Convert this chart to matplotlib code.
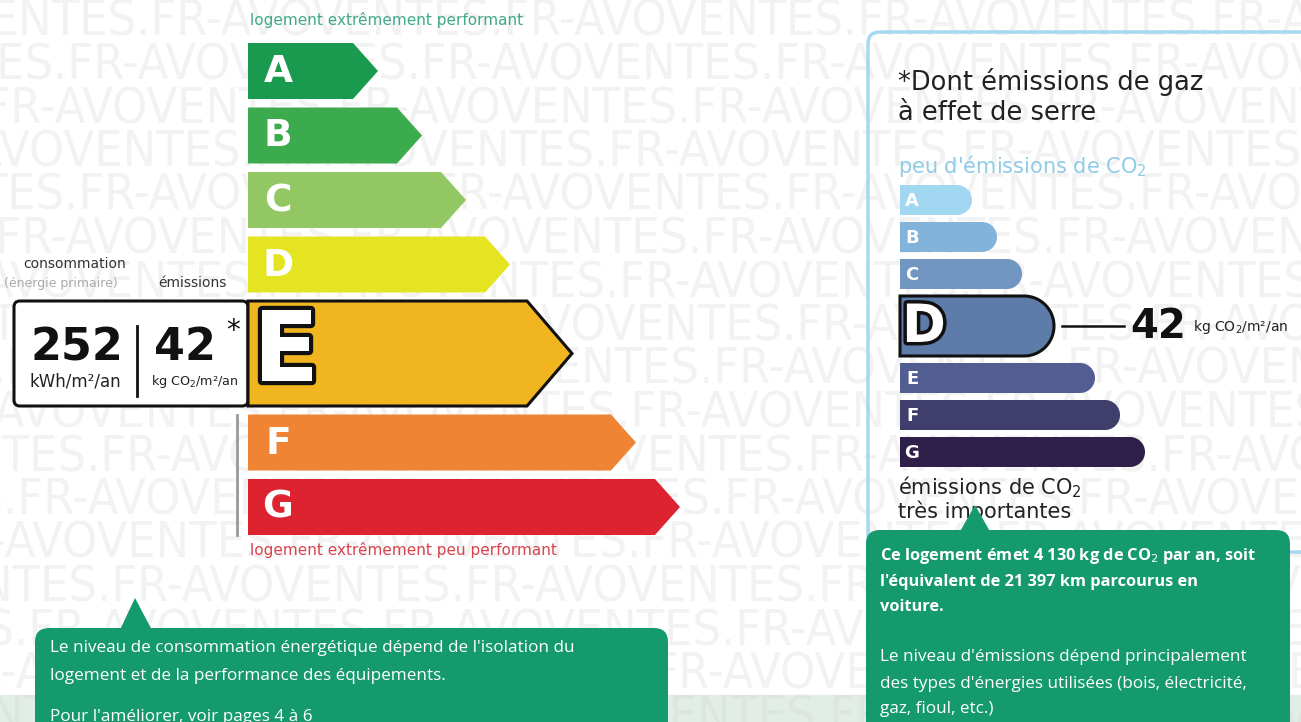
import matplotlib
matplotlib.use("Agg")
import matplotlib.pyplot as plt
from matplotlib.patches import Polygon, FancyBboxPatch, Rectangle
import matplotlib.patheffects as pe
import numpy as np

# données du diagnostic
classes = ["A", "B", "C", "D", "E", "F", "G"]
energy_len = [130, 174, 218, 262, 324, 388, 432]
energy_colors = ["#1a9a4f", "#3cab4e", "#93c763", "#e4e421", "#f1b520", "#ee8434", "#dd2330"]
co2_len = [72, 97, 122, 154, 195, 220, 245]
co2_colors = ["#a2d7f1", "#82b4db", "#7096c1", "#5e7ca9", "#525e91", "#403f6c", "#2d1f47"]
energy_class = "E"
co2_class = "D"
conso_value = 252
emis_value = 42
co2_kg_year = "4 130"
km_equiv = "21 397"

GREEN = "#149a6d"

fig = plt.figure(figsize=(13.01, 7.22), dpi=100)
ax = fig.add_axes([0, 0, 1, 1])
ax.set_xlim(0, 1301)
ax.set_ylim(722, 0)
ax.axis("off")

# bande claire en bas + filigrane
ax.add_patch(Rectangle((0, 695), 1301, 30, color="#e2eee5", zorder=0))
wm = "VENTES.FR-AVO" * 14
for i in range(17):
    ax.text(-((i * 83) % 260) - 40, 22 + i * 43.5, wm, fontsize=36, color="#cccccc", alpha=0.25,
            family="DejaVu Sans", fontstretch="condensed", va="center", ha="left", zorder=0.5)

# ---- étiquette énergie ----
x0 = 248
y = 43
for c, L, col in zip(classes, energy_len, energy_colors):
    sel = (c == energy_class)
    h = 105 if sel else 56
    tip = 45 if sel else 25
    pts = [(x0, y), (x0 + L - tip, y), (x0 + L, y + h / 2), (x0 + L - tip, y + h), (x0, y + h)]
    if sel:
        # cadre des valeurs
        ax.add_patch(FancyBboxPatch((14, y), x0 - 14, h, boxstyle="round,pad=0,rounding_size=6",
                                    fc="white", ec="#111111", lw=2.2, zorder=3))
        ax.add_patch(Polygon(pts, closed=True, fc=col, ec="#111111", lw=2.2, zorder=4))
        ax.text(x0 + 38, y + h / 2 + 1, c, fontsize=70, fontweight="bold", color="white",
                ha="center", va="center", zorder=5,
                path_effects=[pe.withStroke(linewidth=6, foreground="#111111")])
        ax.plot([137, 137], [y + 25, y + h - 10], color="#111111", lw=2, zorder=5)
        ax.text(77, y + 47, str(conso_value), fontsize=32, fontweight="bold", color="#111111",
                ha="center", va="center", zorder=5)
        ax.text(185, y + 47, str(emis_value), fontsize=32, fontweight="bold", color="#111111",
                ha="center", va="center", zorder=5)
        ax.text(233, y + 30, "*", fontsize=20, color="#111111", ha="center", va="center", zorder=5)
        ax.text(75, y + 81, "kWh/m²/an", fontsize=12, color="#222222", ha="center", va="center", zorder=5)
        ax.text(195, y + 81, "kg CO$_2$/m²/an", fontsize=9.2, color="#222222", ha="center", va="center", zorder=5)
    else:
        ax.add_patch(Polygon(pts, closed=True, fc=col, ec="none", zorder=2))
        ax.text(x0 + 30, y + h / 2 + 1, c, fontsize=27, fontweight="bold", color="white",
                ha="center", va="center", zorder=3)
    y += h + 8.5

ax.plot([237, 237], [415, 535], color="#999999", lw=2, zorder=2)
ax.text(250, 20, "logement extrêmement performant", fontsize=11, color="#3fa98a", va="center")
ax.text(250, 550, "logement extrêmement peu performant", fontsize=11, color="#d8434c", va="center")
ax.text(75, 264, "consommation", fontsize=10, color="#333333", ha="center", va="center")
ax.text(61, 283, "(énergie primaire)", fontsize=9, color="#aaaaaa", ha="center", va="center")
ax.text(192, 283, "émissions", fontsize=10, color="#333333", ha="center", va="center")

# ---- étiquette climat ----
ax.add_patch(FancyBboxPatch((868, 32), 500, 520, boxstyle="round,pad=0,rounding_size=12",
                            fc="none", ec="#a6d8f0", lw=2.5, zorder=1))
ax.text(898, 82, "*Dont émissions de gaz", fontsize=18.5, color="#222222", va="center")
ax.text(898, 113, "à effet de serre", fontsize=18.5, color="#222222", va="center")
ax.text(898, 166, "peu d'émissions de CO$_2$", fontsize=15, color="#8fcbe6", va="center")
ax.text(898, 487, "émissions de CO$_2$", fontsize=15, color="#222222", va="center")
ax.text(898, 511, "très importantes", fontsize=15, color="#222222", va="center")

cx0 = 900
y = 185
for c, L, col in zip(classes, co2_len, co2_colors):
    sel = (c == co2_class)
    h = 60 if sel else 30
    r = h / 2
    th = np.linspace(-np.pi / 2, np.pi / 2, 40)
    arc = [(cx0 + L - r + r * np.cos(t), y + r + r * np.sin(t)) for t in th]
    pts = [(cx0, y)] + arc + [(cx0, y + h)]
    if sel:
        ax.add_patch(Polygon(pts, closed=True, fc=col, ec="#111111", lw=2.2, zorder=3))
        ax.text(cx0 + 24, y + r + 1, c, fontsize=38, fontweight="bold", color="white",
                ha="center", va="center", zorder=4,
                path_effects=[pe.withStroke(linewidth=5, foreground="#111111")])
        ax.plot([cx0 + L + 8, cx0 + L + 70], [y + r, y + r], color="#111111", lw=1.8, zorder=3)
        ax.text(cx0 + L + 104, y + r + 1, str(emis_value), fontsize=29, fontweight="bold",
                color="#111111", ha="center", va="center", zorder=4)
        ax.text(cx0 + L + 139, y + r + 1, "kg CO$_2$/m²/an", fontsize=10, color="#222222",
                ha="left", va="center", zorder=4)
    else:
        ax.add_patch(Polygon(pts, closed=True, fc=col, ec="none", zorder=2))
        ax.text(cx0 + 12, y + r + 1, c, fontsize=13, fontweight="bold", color="white",
                ha="center", va="center", zorder=3)
    y += h + 7

# ---- bulles vertes ----
ax.add_patch(Polygon([(135, 598), (119, 632), (153, 632)], closed=True, fc=GREEN, ec="none", zorder=5))
ax.add_patch(FancyBboxPatch((35, 628), 633, 120, boxstyle="round,pad=0,rounding_size=14",
                            fc=GREEN, ec="none", zorder=5))
ff = ["Open Sans", "DejaVu Sans"]
ax.text(50, 648, "Le niveau de consommation énergétique dépend de l'isolation du",
        fontsize=12.3, color="white", family=ff, va="center", zorder=6)
ax.text(50, 676, "logement et de la performance des équipements.",
        fontsize=12.3, color="white", family=ff, va="center", zorder=6)
ax.text(50, 717, "Pour l'améliorer, voir pages 4 à 6",
        fontsize=12.3, color="white", family=ff, va="center", zorder=6)

ax.add_patch(Polygon([(975, 505), (958, 535), (992, 535)], closed=True, fc=GREEN, ec="none", zorder=5))
ax.add_patch(FancyBboxPatch((866, 530), 424, 220, boxstyle="round,pad=0,rounding_size=14",
                            fc=GREEN, ec="none", zorder=5))
ax.text(880, 556, f"Ce logement émet {co2_kg_year} kg de CO$_2$ par an, soit",
        fontsize=11.8, fontweight="bold", color="white", family=ff, va="center", zorder=6)
ax.text(880, 582, f"l'équivalent de {km_equiv} km parcourus en",
        fontsize=11.8, fontweight="bold", color="white", family=ff, va="center", zorder=6)
ax.text(880, 607, "voiture.", fontsize=11.8, fontweight="bold", color="white", family=ff,
        va="center", zorder=6)
ax.text(880, 657, "Le niveau d'émissions dépend principalement",
        fontsize=12.3, color="white", family=ff, va="center", zorder=6)
ax.text(880, 684, "des types d'énergies utilisées (bois, électricité,",
        fontsize=12.3, color="white", family=ff, va="center", zorder=6)
ax.text(880, 709, "gaz, fioul, etc.)", fontsize=12.3, color="white", family=ff,
        va="center", zorder=6)

fig.savefig("out.png", dpi=100)
